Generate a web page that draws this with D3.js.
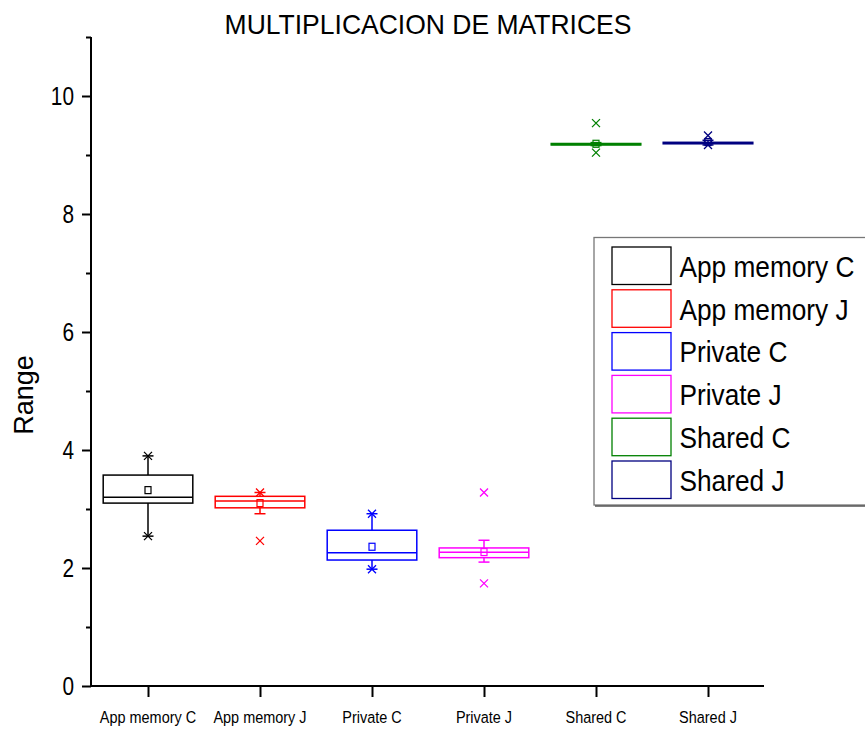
<!DOCTYPE html>
<html>
<head>
<meta charset="utf-8">
<script src="https://cdn.jsdelivr.net/npm/d3@7"></script>
<style>
  body { margin: 0; background: #fff; }
  text { font-family: "Liberation Sans", Arial, sans-serif; fill: #000; }
</style>
</head>
<body>
<div id="chart"></div>
<script>
// values
var categories = ["App memory C", "App memory J", "Private C", "Private J", "Shared C", "Shared J"];
var q1 = [3.10, 3.02, 2.135, 2.175, 9.17, 9.19];
var q3 = [3.575, 3.215, 2.64, 2.34, 9.195, 9.215];
var median = [3.20, 3.135, 2.26, 2.265, 9.18, 9.20];
var mean = [3.32, 3.10, 2.36, 2.27, 9.19, 9.22];
var whiskerLow = [2.54, 2.92, 1.98, 2.10, 9.16, 9.17];
var whiskerHigh = [3.90, 3.28, 2.92, 2.47, 9.21, 9.25];
var crosses = [[2.54, 3.90], [2.46, 3.28], [1.98, 2.92], [1.74, 3.28], [9.04, 9.54], [9.17, 9.33]];
var majorTicks = [0, 2, 4, 6, 8, 10];
var minorTicks = [1, 3, 5, 7, 9, 11];

var colors = ["#000000", "#ff0000", "#0000ff", "#ff00ff", "#008000", "#000080"];

var svg = d3.select("#chart").append("svg")
        .attr("width", 865)
        .attr("height", 731);

var x = d3.scalePoint().domain(categories).range([92, 764]).padding(0.5);
var y = d3.scaleLinear().domain([0, 11]).range([686, 37]);
var boxW = x.step() * 0.8;

/** text helper, the original glyphs are a bit narrow **/
function label(px, py, str, size, sx, anchor) {
    return svg.append("text")
        .attr("transform", "translate(" + px + "," + py + ") scale(" + sx + ",1)")
        .attr("text-anchor", anchor)
        .attr("font-size", size)
        .text(str);
}

/** axes **/
var yAxis = svg.append("g")
        .attr("transform", "translate(91,0)")
        .call(d3.axisLeft(y).tickValues(majorTicks).tickSize(9).tickFormat(""));
svg.append("g")
        .attr("transform", "translate(91,0)")
        .call(d3.axisLeft(y).tickValues(minorTicks).tickSize(5).tickFormat(""))
        .select(".domain").remove();
var xAxis = svg.append("g")
        .attr("transform", "translate(0,686)")
        .call(d3.axisBottom(x).tickSize(11).tickSizeOuter(0).tickFormat(""));
svg.selectAll(".domain, .tick line")
        .attr("stroke", "#000")
        .attr("stroke-width", 2);
yAxis.select(".domain").attr("d", "M0," + y(11) + "V" + (y(0) + 1));
xAxis.select(".domain").attr("d", "M91,0H764");

majorTicks.forEach(function(t) {
    label(74, y(t), t, 26, 0.8, "end").attr("dy", "0.35em");
});
categories.forEach(function(c) {
    label(x(c), 723, c, 17, 0.85, "middle");
});

label(428, 34, "MULTIPLICACION DE MATRICES", 28, 0.947, "middle");

svg.append("text")
        .attr("transform", "translate(32.5,395) rotate(-90)")
        .attr("text-anchor", "middle")
        .attr("font-size", 27)
        .text("Range");

/** boxes **/
categories.forEach(function(c, i) {
    var g = svg.append("g")
            .attr("stroke", colors[i])
            .attr("fill", "none")
            .attr("stroke-width", 1.5);
    var cx = x(c);

    // whiskers with caps
    g.append("line").attr("x1", cx).attr("x2", cx)
        .attr("y1", y(q3[i])).attr("y2", y(whiskerHigh[i]));
    g.append("line").attr("x1", cx).attr("x2", cx)
        .attr("y1", y(q1[i])).attr("y2", y(whiskerLow[i]));
    [whiskerLow[i], whiskerHigh[i]].forEach(function(w) {
        g.append("line").attr("x1", cx - 5.5).attr("x2", cx + 5.5)
            .attr("y1", y(w)).attr("y2", y(w));
    });

    g.append("rect")
        .attr("x", cx - boxW / 2)
        .attr("y", y(q3[i]))
        .attr("width", boxW)
        .attr("height", y(q1[i]) - y(q3[i]));
    g.append("line")
        .attr("x1", cx - boxW / 2).attr("x2", cx + boxW / 2)
        .attr("y1", y(median[i])).attr("y2", y(median[i]));

    // mean
    g.append("rect")
        .attr("x", cx - 3)
        .attr("y", y(mean[i]) - 3.5)
        .attr("width", 6)
        .attr("height", 7)
        .attr("stroke-width", 1.2);

    // x markers
    crosses[i].forEach(function(v) {
        var cy = y(v);
        g.append("path")
            .attr("stroke-width", 1.3)
            .attr("d", "M" + (cx - 4) + "," + (cy - 4) + "L" + (cx + 4) + "," + (cy + 4) +
                       "M" + (cx - 4) + "," + (cy + 4) + "L" + (cx + 4) + "," + (cy - 4));
    });
});

/** legend **/
var legend = svg.append("g");
legend.append("rect")
        .attr("x", 594).attr("y", 237.5)
        .attr("width", 300).attr("height", 267.5)
        .attr("fill", "#fff")
        .attr("stroke", "#777")
        .attr("stroke-width", 1.3);
legend.append("line")
        .attr("x1", 595).attr("x2", 865)
        .attr("y1", 506).attr("y2", 506)
        .attr("stroke", "#555")
        .attr("stroke-width", 1.5);

categories.forEach(function(c, i) {
    var top = 247 + i * 42.8;
    legend.append("rect")
        .attr("x", 612).attr("y", top)
        .attr("width", 59).attr("height", 37.5)
        .attr("fill", "none")
        .attr("stroke", colors[i])
        .attr("stroke-width", 1.3);
    label(679.5, top + 19, c, 30, 0.875, "start").attr("dy", "0.36em");
});
</script>
</body>
</html>
